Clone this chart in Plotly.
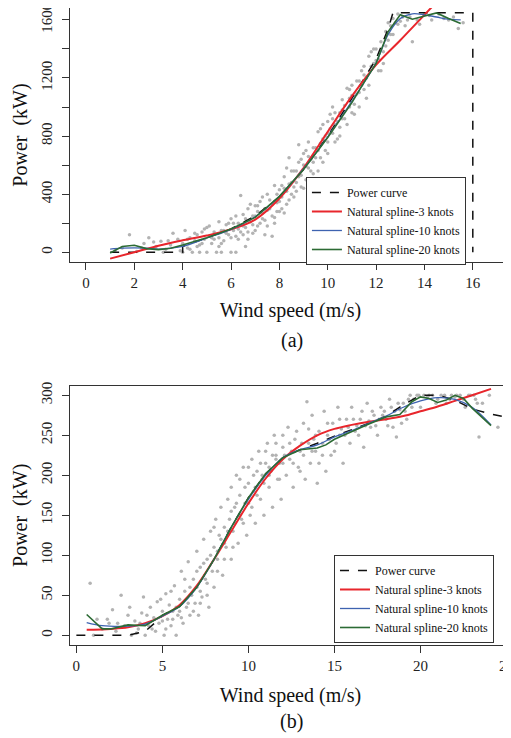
import plotly.graph_objects as go

# ---- panel (a): 1600 kW turbine ----
pc_a_x = [1, 4, 4, 4.5, 5, 6, 7, 8, 9, 10, 11, 12, 12.5, 12.7, 16, 16]
pc_a_y = [0, 0, 40, 70, 100, 160, 250, 380, 570, 800, 1060, 1330, 1540, 1650, 1650, 0]

ns3_a_x = [1, 2, 3, 4, 5, 6, 7, 8, 9, 10, 11, 12, 13, 14, 14.6]
ns3_a_y = [-44, 0, 45, 82, 115, 158, 225, 370, 580, 830, 1075, 1290, 1460, 1635, 1740]

ns10_a_x = [1, 1.5, 2, 2.5, 3, 3.5, 4, 5, 6, 7, 8, 9, 10, 11, 12, 12.5, 13, 13.5, 14, 14.5, 15, 15.5]
ns10_a_y = [22, 28, 30, 28, 22, 28, 40, 98, 158, 245, 385, 575, 795, 1040, 1305, 1500, 1610, 1642, 1635, 1620, 1605, 1600]

ns20_a_x = [1, 1.5, 2, 2.5, 3, 3.5, 4, 5, 6, 7, 8, 9, 10, 11, 11.5, 12, 12.5, 13, 13.5, 14, 14.5, 15, 15.5]
ns20_a_y = [-5, 40, 48, 25, 18, 28, 50, 100, 160, 240, 385, 570, 790, 1030, 1170, 1300, 1520, 1635, 1605, 1625, 1648, 1610, 1575]

obs_a_x = [1.2, 1.5, 1.8, 2.1, 2.4, 2.6, 2.9, 3.1, 3.3, 3.5, 3.6, 3.8, 3.9,
           4.0, 4.1, 4.2, 4.3, 4.4, 4.5, 4.6, 4.7, 4.8, 4.9, 5.0, 5.0, 5.1, 5.2, 5.3, 5.4, 5.5, 5.5, 5.6, 5.7, 5.8, 5.9,
           6.0, 6.0, 6.1, 6.2, 6.3, 6.4, 6.4, 6.5, 6.6, 6.7, 6.8, 6.9, 7.0, 7.0, 7.1, 7.2, 7.3, 7.4, 7.5, 7.6, 7.7, 7.7, 7.8, 7.9,
           8.0, 8.0, 8.1, 8.2, 8.3, 8.4, 8.4, 8.5, 8.6, 8.7, 8.8, 8.8, 8.9, 9.0, 9.0, 9.1, 9.2, 9.3, 9.4, 9.5, 9.6, 9.7, 9.8, 9.9,
           10.0, 10.0, 10.1, 10.2, 10.3, 10.4, 10.5, 10.6, 10.7, 10.8, 10.9, 11.0, 11.1, 11.2, 11.3, 11.4, 11.5, 11.6, 11.7, 11.8, 11.9,
           12.0, 12.1, 12.2, 12.3, 12.4, 12.5, 12.6, 12.7, 12.8, 12.9, 13.0, 13.2, 13.4, 13.5, 13.7, 14.0, 14.3, 14.6, 15.0, 15.4, 15.6,
           4.2, 4.6, 4.9, 5.2, 5.6, 5.8, 6.1, 6.3, 6.5, 6.7, 6.8, 6.9, 7.1, 7.2, 7.3, 7.4, 7.6, 7.8, 7.9, 8.1, 8.2, 8.3, 8.5,
           8.6, 8.7, 8.9, 9.1, 9.2, 9.3, 9.4, 9.6, 9.7, 9.8, 10.0, 10.2, 10.3, 10.5, 10.6, 10.9, 11.0, 11.3, 11.5, 11.6, 11.9, 12.3, 12.6,
           4.3, 4.5, 4.8, 5.1, 5.3, 5.5, 5.7, 5.9, 6.0, 6.2, 6.3, 6.5, 6.6, 6.7, 6.9, 7.0, 7.1, 7.3, 7.5, 7.5, 7.7, 7.8, 7.9,
           8.0, 8.1, 8.2, 8.3, 8.4, 8.5, 8.6, 8.7, 8.8, 8.9, 9.0, 9.1, 9.2, 9.3, 9.4, 9.5, 9.6, 9.7, 9.8, 9.9,
           10.0, 10.1, 10.2, 10.3, 10.4, 10.5, 10.6, 10.7, 10.8, 10.9, 11.0, 11.1, 11.2, 11.3, 11.4, 11.5, 11.7, 11.8,
           12.0, 12.1, 12.2, 12.4, 12.5, 12.7, 12.9, 13.1, 13.3, 13.8, 14.2, 14.8, 15.2,
           3.2, 3.4, 2.8, 2.3, 4.0, 4.7, 5.6, 6.2, 6.6, 7.4]
obs_a_y = [10, 30, 120, 5, 60, 100, 40, 75, 20, 50, 130, 90, 10,
           60, 150, 30, 100, 0, 80, 120, 50, 140, 90, 0, 170, 110, 60, 140, 0, 100, 210, 150, 80, 190, 120,
           0, 230, 150, 110, 200, 390, 140, 260, 170, 300, 210, 130, 320, 250, 180, 350, 270, 220, 400, 300, 110, 250, 460, 340,
           280, 430, 380, 520, 330, 470, 650, 400, 560, 480, 620, 740, 530, 440, 680, 590, 760, 640, 540, 720, 830, 650, 780, 700,
           900, 760, 850, 1000, 880, 780, 960, 1050, 920, 1130, 1000, 1080, 950, 1180, 1100, 1250, 1120, 1200, 1350, 1280, 1400,
           1320, 1250, 1450, 1380, 1520, 1460, 1560, 1610, 1580, 1640, 1590, 1560, 1620, 1450, 1600, 1640, 1600, 1640, 1600, 1540, 1580,
           90, 40, 160, 100, 60, 130, 200, 90, 180, 140, 330, 250, 280, 200, 380, 300, 360, 240, 400, 300, 440, 580, 480,
           380, 560, 640, 500, 660, 560, 720, 700, 850, 620, 820, 920, 760, 860, 980, 1120, 960, 1180, 1280, 1060, 1300, 1300, 1500,
           20, 130, 60, 180, 90, 40, 150, 200, 100, 250, 160, 120, 230, 90, 190, 150, 320, 230, 180, 290, 330, 200, 280,
           350, 460, 270, 420, 360, 560, 450, 420, 520, 450, 600, 700, 580, 480, 620, 650, 560, 750, 880, 800,
           680, 950, 820, 960, 900, 800, 920, 1010, 880, 1060, 1150, 1020, 1090, 1000, 1150, 1220, 1150, 1380,
           1400, 1330, 1250, 1420, 1580, 1500, 1570, 1620, 1600, 1570, 1630, 1610, 1620,
           0, 80, 70, 30, 0, 0, 0, 0, 40, 120]

# ---- panel (b): 300 kW turbine ----
pc_b_x = [0, 3, 4, 4.7, 5, 6, 7, 8, 9, 10, 11, 12, 13, 14, 15, 16, 17, 18, 19, 20, 21, 22, 23, 24, 25.3]
pc_b_y = [0, 0, 5, 18, 25, 36, 60, 95, 135, 172, 202, 222, 232, 240, 249, 257, 265, 274, 288, 300, 300, 294, 283, 277, 271]

ns3_b_x = [0.6, 1, 2, 3, 4, 5, 6, 7, 8, 9, 10, 11, 12, 13, 14, 15, 16, 17, 18, 19, 20, 21, 22, 23, 24.1]
ns3_b_y = [7, 7, 8, 10, 15, 24, 38, 62, 95, 130, 165, 196, 220, 237, 250, 258, 263, 267, 270, 274, 280, 286, 293, 300, 308]

ns10_b_x = [0.6, 1.5, 2.5, 3.5, 4, 5, 6, 7, 8, 9, 10, 11, 12, 13, 14, 15, 16, 17, 18, 19, 20, 21, 22, 23, 24.1]
ns10_b_y = [16, 12, 11, 12, 14, 24, 36, 60, 95, 135, 170, 200, 222, 232, 238, 248, 256, 265, 274, 285, 293, 297, 295, 285, 263]

ns20_b_x = [0.6, 1.5, 2, 3, 4, 5, 6, 7, 8, 9, 10, 11, 12, 13, 14, 14.5, 15, 16, 17, 18, 18.8, 19.5, 20, 20.5, 21, 21.5, 22, 22.5, 23, 24.1]
ns20_b_y = [26, 8, 8, 13, 12, 25, 36, 60, 95, 135, 172, 202, 222, 232, 234, 238, 245, 255, 264, 273, 276, 292, 298, 296, 291, 294, 300, 296, 284, 262]

obs_b_x = [0.8, 1.2, 1.5, 1.9, 2.1, 2.3, 2.6, 2.8, 3.0, 3.2, 3.4, 3.6, 3.8, 3.9, 4.0, 4.2, 4.3, 4.5, 4.6, 4.7, 4.8,
           5.0, 5.1, 5.2, 5.3, 5.4, 5.5, 5.6, 5.7, 5.8, 5.9, 6.0, 6.1, 6.2, 6.3, 6.4, 6.5, 6.6, 6.7, 6.8, 6.9,
           7.0, 7.0, 7.1, 7.2, 7.3, 7.4, 7.5, 7.6, 7.7, 7.8, 7.9, 8.0, 8.0, 8.1, 8.2, 8.3, 8.4, 8.5, 8.6, 8.7, 8.8, 8.9,
           9.0, 9.0, 9.1, 9.2, 9.3, 9.4, 9.5, 9.6, 9.7, 9.8, 9.9, 10.0, 10.1, 10.2, 10.3, 10.4, 10.5, 10.6, 10.7, 10.8, 10.9,
           11.0, 11.1, 11.2, 11.3, 11.4, 11.5, 11.6, 11.7, 11.8, 11.9, 12.0, 12.2, 12.3, 12.4, 12.6, 12.7, 12.9,
           13.0, 13.2, 13.3, 13.5, 13.6, 13.7, 13.9, 14.0, 14.1, 14.3, 14.4, 14.5, 14.7, 14.9, 15.0, 15.2, 15.3, 15.5, 15.7, 15.9,
           16.0, 16.2, 16.5, 16.7, 16.9, 17.1, 17.3, 17.5, 17.7, 18.0, 18.2, 18.4, 18.6, 18.8, 19.0, 19.2, 19.4, 19.6, 19.8,
           20.0, 20.2, 20.4, 20.7, 21.0, 21.2, 21.5, 21.8, 22.0, 22.3, 22.6, 22.9, 23.2, 23.4, 23.6, 24.5,
           5.0, 5.6, 6.0, 6.5, 7.2, 7.6, 8.2, 8.6, 9.2, 9.5, 10.0, 10.4, 10.8, 11.2, 11.6, 12.0, 12.5, 13.1, 13.8, 14.6,
           15.4, 16.3, 17.0, 17.8, 18.5, 13.4,
           1.0, 1.8, 2.4, 3.1, 3.5, 3.7, 4.1, 4.4, 4.9, 5.2, 5.5, 5.8, 6.1, 6.3, 6.6, 6.8, 7.0, 7.2, 7.4, 7.6, 7.8,
           8.0, 8.2, 8.4, 8.6, 8.8, 9.0, 9.1, 9.3, 9.5, 9.7, 9.8, 10.0, 10.2, 10.3, 10.5, 10.7, 10.9,
           11.0, 11.2, 11.4, 11.6, 11.8, 12.0, 12.1, 12.4, 12.6, 12.8, 13.0, 13.2, 13.5, 13.7, 13.9,
           14.1, 14.3, 14.6, 14.8, 15.1, 15.3, 15.6, 15.8, 16.1, 16.4, 16.6, 16.8, 17.2, 17.4, 17.6, 17.9,
           18.1, 18.3, 18.7, 18.9, 19.1, 19.3, 19.5, 19.9, 20.5, 20.9, 21.4, 21.7, 22.1, 22.5, 22.8, 23.1, 23.3, 24.0]
obs_b_y = [65, 20, 8, 15, 32, 5, 50, 12, 25, 0, 18, 8, 28, 48, 0, 12, 35, 22, 5, 42, 15,
           30, 0, 52, 20, 38, 12, 30, 62, 0, 25, 45, 80, 15, 55, 35, 92, 25, 50, 70, 40,
           105, 60, 25, 85, 48, 120, 70, 95, 35, 130, 80, 110, 60, 145, 95, 125, 160, 75, 135, 110, 170, 145,
           95, 185, 130, 160, 200, 115, 175, 145, 210, 165, 125, 190, 150, 220, 180, 140, 205, 230, 170, 195, 150,
           215, 240, 185, 205, 160, 250, 225, 195, 215, 170, 235, 200, 260, 220, 185, 245, 210,
           230, 265, 195, 240, 215, 275, 230, 190, 255, 225, 280, 205, 245, 265, 230, 285, 250, 215, 270, 240,
           285, 255, 270, 235, 290, 260, 275, 250, 285, 270, 295, 260, 248, 282, 290, 270, 300, 295, 300,
           285, 300, 298, 300, 295, 300, 290, 300, 298, 300, 285, 300, 295, 248, 290, 260,
           18, 20, 30, 40, 55, 65, 105, 115, 140, 150, 165, 185, 200, 210, 220, 215, 230, 240, 245, 250,
           258, 262, 268, 275, 280, 292,
           0, 20, 15, 35, 3, 15, 25, 8, 45, 8, 55, 35, 22, 70, 60, 30, 80, 40, 90, 50, 100,
           135, 80, 120, 95, 130, 155, 110, 165, 195, 140, 185, 210, 160, 200, 175, 215, 190,
           230, 200, 225, 240, 195, 250, 225, 240, 215, 255, 205, 225, 258, 230, 250,
           215, 240, 265, 225, 240, 270, 250, 260, 270, 250, 280, 262, 280, 262, 270, 280,
           262, 285, 290, 265, 280, 295, 285, 300, 300, 290, 300, 295, 300, 295, 300, 300, 290, 300]

legend_names = ["Power curve", "Natural spline-3 knots", "Natural spline-10 knots", "Natural spline-20 knots"]

FONT = "Liberation Serif, Times New Roman, Times, serif"
GRAY = "#b3b3b3"
RED = "#e8262c"
BLUE = "#3e63b0"
GREEN = "#2c6b34"

fig = go.Figure()

panels = [
    ("x", "y", "legend", obs_a_x, obs_a_y, pc_a_x, pc_a_y, ns3_a_x, ns3_a_y, ns10_a_x, ns10_a_y, ns20_a_x, ns20_a_y),
    ("x2", "y2", "legend2", obs_b_x, obs_b_y, pc_b_x, pc_b_y, ns3_b_x, ns3_b_y, ns10_b_x, ns10_b_y, ns20_b_x, ns20_b_y),
]

for xa, ya, lg, ox, oy, px_, py_, r_x, r_y, b_x, b_y, g_x, g_y in panels:
    fig.add_trace(go.Scatter(x=ox, y=oy, mode="markers", xaxis=xa, yaxis=ya,
                             marker=dict(size=3.5, color=GRAY), showlegend=False, hoverinfo="skip"))
    fig.add_trace(go.Scatter(x=px_, y=py_, mode="lines", xaxis=xa, yaxis=ya, legend=lg,
                             name=legend_names[0], line=dict(color="#111", width=1.5, dash="dash")))
    fig.add_trace(go.Scatter(x=r_x, y=r_y, mode="lines", xaxis=xa, yaxis=ya, legend=lg,
                             name=legend_names[1], line=dict(color=RED, width=2, shape="spline")))
    fig.add_trace(go.Scatter(x=b_x, y=b_y, mode="lines", xaxis=xa, yaxis=ya, legend=lg,
                             name=legend_names[2], line=dict(color=BLUE, width=1.3, shape="spline")))
    fig.add_trace(go.Scatter(x=g_x, y=g_y, mode="lines", xaxis=xa, yaxis=ya, legend=lg,
                             name=legend_names[3], line=dict(color=GREEN, width=1.6)))

axis_common = dict(showgrid=False, zeroline=False, showline=True, linecolor="#333", linewidth=1,
                   ticks="outside", ticklen=7, tickcolor="#333", automargin=False,
                   ticklabeloverflow="allow",
                   tickfont=dict(family=FONT, size=15, color="#222"))
title_font = dict(family=FONT, size=20, color="#111")

legend_common = dict(bgcolor="white", bordercolor="#333", borderwidth=1, xanchor="left", yanchor="top",
                     font=dict(family=FONT, size=12, color="#111"), tracegroupgap=0, itemwidth=30)

# page body adds an 8px offset, so the figure is 8px smaller and margins shifted
fig.update_layout(
    width=503, height=730, template="none",
    font=dict(family=FONT),
    paper_bgcolor="white", plot_bgcolor="white",
    margin=dict(l=62, r=0, t=0, b=93),
    xaxis=dict(axis_common, domain=[0, 1], anchor="y", range=[-0.66, 17.58], mirror=True,
               tickvals=[0, 2, 4, 6, 8, 10, 12, 14, 16],
               title=dict(text="Wind speed (m/s)", font=title_font, standoff=13)),
    yaxis=dict(axis_common, domain=[0.6013, 1], anchor="x", range=[-67, 1682], tickangle=-90,
               ticklabelstandoff=4,
               tickvals=[0, 200, 400, 600, 800, 1000, 1200, 1400, 1600],
               ticktext=["0", "", "400", "", "800", "", "1200", "", "1600"],
               title=dict(text="Power  (kW)", font=title_font, standoff=5)),
    xaxis2=dict(axis_common, domain=[0, 1], anchor="y2", range=[-0.37, 25.26], mirror=True,
                tickvals=[0, 5, 10, 15, 20, 25],
                title=dict(text="Wind speed (m/s)", font=title_font, standoff=14)),
    yaxis2=dict(axis_common, domain=[0, 0.4071], anchor="x2", range=[-12.1, 312], tickangle=-90,
                ticklabelstandoff=4,
                tickvals=[0, 50, 100, 150, 200, 250, 300],
                title=dict(text="Power  (kW)", font=title_font, standoff=5)),
    legend=dict(legend_common, x=0.535, y=0.7347),
    legend2=dict(legend_common, x=0.5986, y=0.1413),
    annotations=[
        dict(text="(a)", x=0.503, y=0.4788, xref="paper", yref="paper", showarrow=False,
             yanchor="middle", font=dict(family=FONT, size=20, color="#111")),
        dict(text="(b)", x=0.503, y=-0.1204, xref="paper", yref="paper", showarrow=False,
             yanchor="middle", font=dict(family=FONT, size=20, color="#111")),
    ],
)

fig.write_html("out.html")
